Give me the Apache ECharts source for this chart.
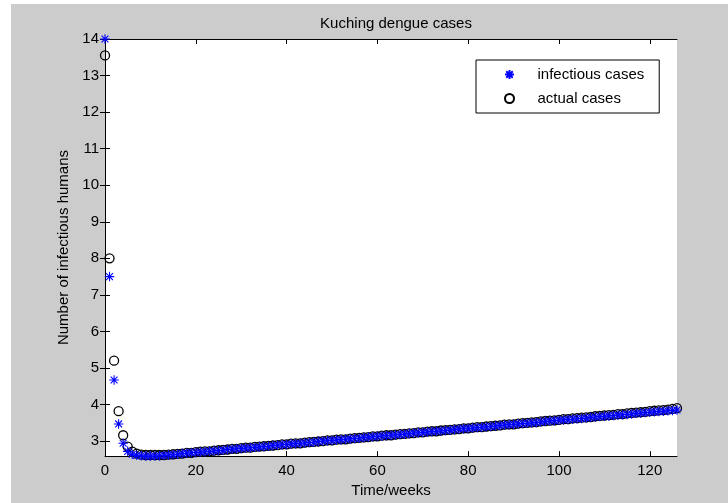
<!DOCTYPE html>
<html>
<head>
<meta charset="utf-8">
<script src="https://cdn.jsdelivr.net/npm/echarts@6/dist/echarts.min.js"></script>
<style>
html,body{margin:0;padding:0;background:#ffffff;width:728px;height:503px;overflow:hidden;}
#chart{position:absolute;left:11px;top:4px;width:717px;height:499px;background:#cccccc;}
</style>
</head>
<body>
<div id="chart"></div>
<script>
// Weekly values, week index 0..126
const infectiousCases = [
  14.0, 7.5, 4.67, 3.47, 2.94, 2.72, 2.64, 2.61, 2.60, 2.59,
  2.59, 2.59, 2.60, 2.61, 2.62, 2.63, 2.64, 2.66, 2.67, 2.68,
  2.69, 2.70, 2.71, 2.72, 2.73, 2.74, 2.75, 2.77, 2.78, 2.79,
  2.80, 2.81, 2.82, 2.83, 2.84, 2.85, 2.86, 2.88, 2.89, 2.90,
  2.91, 2.92, 2.93, 2.94, 2.95, 2.96, 2.97, 2.99, 3.00, 3.01,
  3.02, 3.03, 3.04, 3.05, 3.06, 3.07, 3.08, 3.10, 3.11, 3.12,
  3.13, 3.14, 3.15, 3.16, 3.17, 3.18, 3.19, 3.21, 3.22, 3.23,
  3.24, 3.25, 3.26, 3.27, 3.28, 3.29, 3.30, 3.32, 3.33, 3.34,
  3.35, 3.36, 3.37, 3.38, 3.39, 3.40, 3.41, 3.43, 3.44, 3.45,
  3.46, 3.47, 3.48, 3.49, 3.50, 3.51, 3.52, 3.54, 3.55, 3.56,
  3.57, 3.58, 3.59, 3.60, 3.61, 3.62, 3.63, 3.65, 3.66, 3.67,
  3.68, 3.69, 3.70, 3.71, 3.72, 3.73, 3.74, 3.76, 3.77, 3.78,
  3.79, 3.80, 3.81, 3.82, 3.83, 3.84, 3.85
];
const actualCases = [
  13.55, 8.0, 5.2, 3.82, 3.16, 2.85, 2.71, 2.66, 2.63, 2.62,
  2.62, 2.62, 2.62, 2.62, 2.63, 2.64, 2.65, 2.66, 2.68, 2.68,
  2.70, 2.71, 2.72, 2.72, 2.74, 2.75, 2.76, 2.77, 2.79, 2.79,
  2.81, 2.82, 2.82, 2.84, 2.85, 2.86, 2.87, 2.88, 2.89, 2.91,
  2.91, 2.93, 2.94, 2.94, 2.96, 2.97, 2.98, 2.99, 3.00, 3.02,
  3.02, 3.04, 3.05, 3.05, 3.07, 3.08, 3.09, 3.10, 3.11, 3.13,
  3.13, 3.15, 3.16, 3.16, 3.18, 3.19, 3.20, 3.21, 3.22, 3.24,
  3.24, 3.26, 3.27, 3.27, 3.29, 3.30, 3.31, 3.32, 3.33, 3.35,
  3.35, 3.37, 3.38, 3.38, 3.40, 3.41, 3.42, 3.43, 3.45, 3.46,
  3.46, 3.48, 3.49, 3.50, 3.51, 3.52, 3.54, 3.55, 3.56, 3.57,
  3.58, 3.60, 3.60, 3.62, 3.63, 3.64, 3.65, 3.66, 3.68, 3.69,
  3.70, 3.71, 3.72, 3.74, 3.74, 3.76, 3.77, 3.78, 3.79, 3.80,
  3.82, 3.83, 3.84, 3.85, 3.86, 3.88, 3.90
];
const xTicks = [0, 20, 40, 60, 80, 100, 120];
const yTicks = [3, 4, 5, 6, 7, 8, 9, 10, 11, 12, 13, 14];

const FONT = 'Liberation Sans, Arial, sans-serif';
const FS = 15;
const star = 'path://M0,-10L0,10M-10,0L10,0M-7.2,-7.2L7.2,7.2M-7.2,7.2L7.2,-7.2';

const chart = echarts.init(document.getElementById('chart'), null, {renderer: 'canvas'});
const axisLineStyle = {show: true, lineStyle: {color: '#000', width: 1}};
chart.setOption({
  backgroundColor: '#cccccc',
  animation: false,
  title: {
    text: 'Kuching dengue cases',
    left: 380, top: 7, textAlign: 'center',
    textStyle: {fontFamily: FONT, fontSize: FS, fontWeight: 'normal', color: '#000'}
  },
  legend: {
    orient: 'vertical',
    left: 465, top: 56,
    padding: [7, 15, 7, 28],
    backgroundColor: '#ffffff',
    borderColor: '#000', borderWidth: 1, borderRadius: 0,
    itemWidth: 46, itemHeight: 9, itemGap: 9,
    textStyle: {fontFamily: FONT, fontSize: FS, color: '#000', lineHeight: 14},
    data: ['infectious cases', 'actual cases']
  },
  grid: {left: 94, top: 35, right: 51, bottom: 46, containLabel: false, backgroundColor: '#fff', show: true, borderWidth: 0},
  xAxis: [{
    type: 'value', min: 0, max: 126, interval: 20,
    name: 'Time/weeks', nameLocation: 'middle', nameGap: 26,
    nameTextStyle: {fontFamily: FONT, fontSize: FS, color: '#000'},
    axisLine: axisLineStyle,
    axisTick: {show: true, inside: true, length: 5, lineStyle: {color: '#000'}, customValues: xTicks},
    axisLabel: {fontFamily: FONT, fontSize: FS, color: '#000', margin: 7, customValues: xTicks},
    splitLine: {show: false}
  }, {
    type: 'value', position: 'top', min: 0, max: 126, interval: 20,
    axisLine: axisLineStyle,
    axisTick: {show: true, inside: true, length: 5, lineStyle: {color: '#000'}, customValues: xTicks},
    axisLabel: {show: false},
    splitLine: {show: false}
  }],
  yAxis: [{
    type: 'value', min: 2.59, max: 14,
    name: 'Number of infectious humans', nameLocation: 'middle', nameGap: 33, nameRotate: 90,
    nameTextStyle: {fontFamily: FONT, fontSize: FS, color: '#000'},
    axisLine: axisLineStyle,
    axisTick: {show: true, inside: true, length: 5, lineStyle: {color: '#000'}, customValues: yTicks},
    axisLabel: {fontFamily: FONT, fontSize: FS, color: '#000', margin: 6, customValues: yTicks},
    splitLine: {show: false}
  }, {
    type: 'value', position: 'right', min: 2.59, max: 14,
    axisLine: axisLineStyle,
    axisTick: {show: true, inside: true, length: 5, lineStyle: {color: '#000'}, customValues: yTicks},
    axisLabel: {show: false},
    splitLine: {show: false}
  }],
  series: [{
    name: 'actual cases',
    type: 'scatter', xAxisIndex: 0, yAxisIndex: 0,
    symbol: 'circle', symbolSize: 9, clip: false, z: 2,
    itemStyle: {color: 'rgba(0,0,0,0)', borderColor: '#000', borderWidth: 1.3, opacity: 1},
    data: actualCases.map((v, i) => [i, v])
  }, {
    name: 'infectious cases',
    type: 'scatter', xAxisIndex: 0, yAxisIndex: 0,
    symbol: star, symbolSize: 9.5, clip: false, z: 3,
    itemStyle: {color: '#0000ff', borderColor: '#0000ff', borderWidth: 1.1, opacity: 1},
    data: infectiousCases.map((v, i) => [i, v])
  }]
});
</script>
</body>
</html>
